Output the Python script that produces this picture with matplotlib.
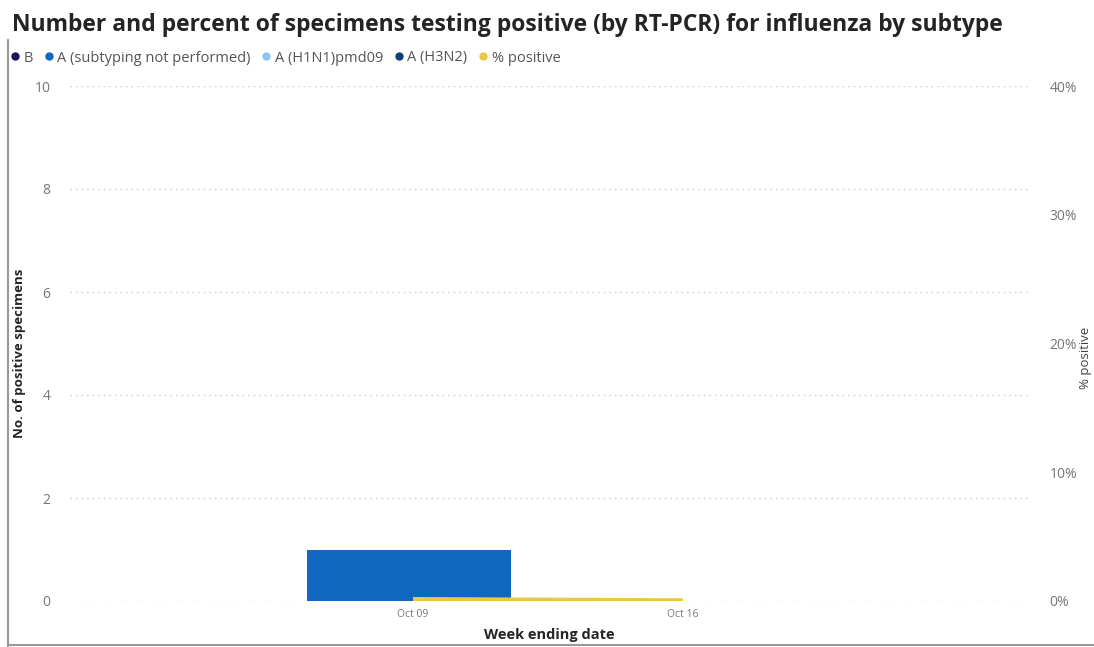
import numpy as np
import matplotlib.pyplot as plt
from matplotlib.lines import Line2D

weeks = ['Oct 09', 'Oct 16']
series = ['B', 'A (subtyping not performed)', 'A (H1N1)pmd09', 'A (H3N2)']
counts_b = [0, 0]
counts_a_unsub = [1, 0]
counts_h1n1 = [0, 0]
counts_h3n2 = [0, 0]
pct_positive = [0.15, 0.05]

colors = ['#14145a', '#1166bf', '#8cc4f0', '#0d3f7a']
line_color = '#e8c93f'

plt.rcParams['font.family'] = ['Open Sans', 'DejaVu Sans']


def main():
    W, H = 1094, 647
    fig = plt.figure(figsize=(W / 100, H / 100), dpi=100)
    ax = fig.add_axes([70 / W, 1 - 601 / H, 960 / W, 515 / H])
    ax2 = ax.twinx()

    x = np.arange(len(weeks))
    bottom = np.zeros(len(weeks))
    for vals, c in zip([counts_b, counts_a_unsub, counts_h1n1, counts_h3n2], colors):
        ax.bar(x - 0.015, vals, width=0.755, bottom=bottom, color=c, zorder=2)
        bottom += np.array(vals)

    ax2.plot(x, pct_positive, color=line_color, lw=3, solid_capstyle='butt', zorder=3)

    ax.set_xlim(-1.27, 2.285)
    ax.set_ylim(0, 10)
    ax2.set_ylim(0, 40)
    ax.set_yticks(range(0, 11, 2))
    ax2.set_yticks(range(0, 41, 10))
    ax2.set_yticklabels([f'{v}%' for v in range(0, 41, 10)])
    ax.set_xticks(x)
    ax.set_xticklabels(weeks)

    ax.grid(axis='y', color='#c8c8c8', ls=(0, (1, 3)), lw=1, zorder=0)
    for a in (ax, ax2):
        for s in a.spines.values():
            s.set_visible(False)
        a.tick_params(length=0, colors='#777777')
    ax.tick_params(axis='y', pad=14, labelsize=10)
    ax.tick_params(axis='x', pad=6, labelsize=7.5)
    ax2.tick_params(axis='y', pad=14, labelsize=10)

    fig.text(549 / W, 1 - 635 / H, 'Week ending date', fontsize=10.5, fontweight='bold',
             color='#252423', ha='center', va='center')
    fig.text(20 / W, 1 - 353 / H, 'No. of positive specimens', fontsize=9.5, fontweight='bold',
             color='#252423', rotation=90, ha='center', va='center')
    fig.text(1086 / W, 1 - 358 / H, '% positive', fontsize=9.5, color='#444444',
             rotation=90, ha='center', va='center')

    fig.text(12 / W, 1 - 25 / H, 'Number and percent of specimens testing positive (by RT-PCR) for influenza by subtype',
             fontsize=16.5, fontweight='bold', color='#252423', va='center')

    handles = [Line2D([], [], marker='o', ls='', color=c, markersize=5) for c in colors + [line_color]]
    labels = series + ['% positive']
    fig.legend(handles, labels, loc='center left', bbox_to_anchor=(8 / W, 1 - 58 / H), ncol=5, frameon=False,
               fontsize=10.5, labelcolor='#555555', handletextpad=0.1, columnspacing=0.55, handlelength=1.0,
               borderaxespad=0, borderpad=0)

    fig.add_artist(Line2D([8 / W, 8 / W], [0, 1 - 40 / H], transform=fig.transFigure, color='#999999', lw=1.5))
    fig.add_artist(Line2D([8 / W, 1], [2 / H, 2 / H], transform=fig.transFigure, color='#999999', lw=1.5))

    fig.savefig('out.png', dpi=100)


if __name__ == '__main__':
    main()
